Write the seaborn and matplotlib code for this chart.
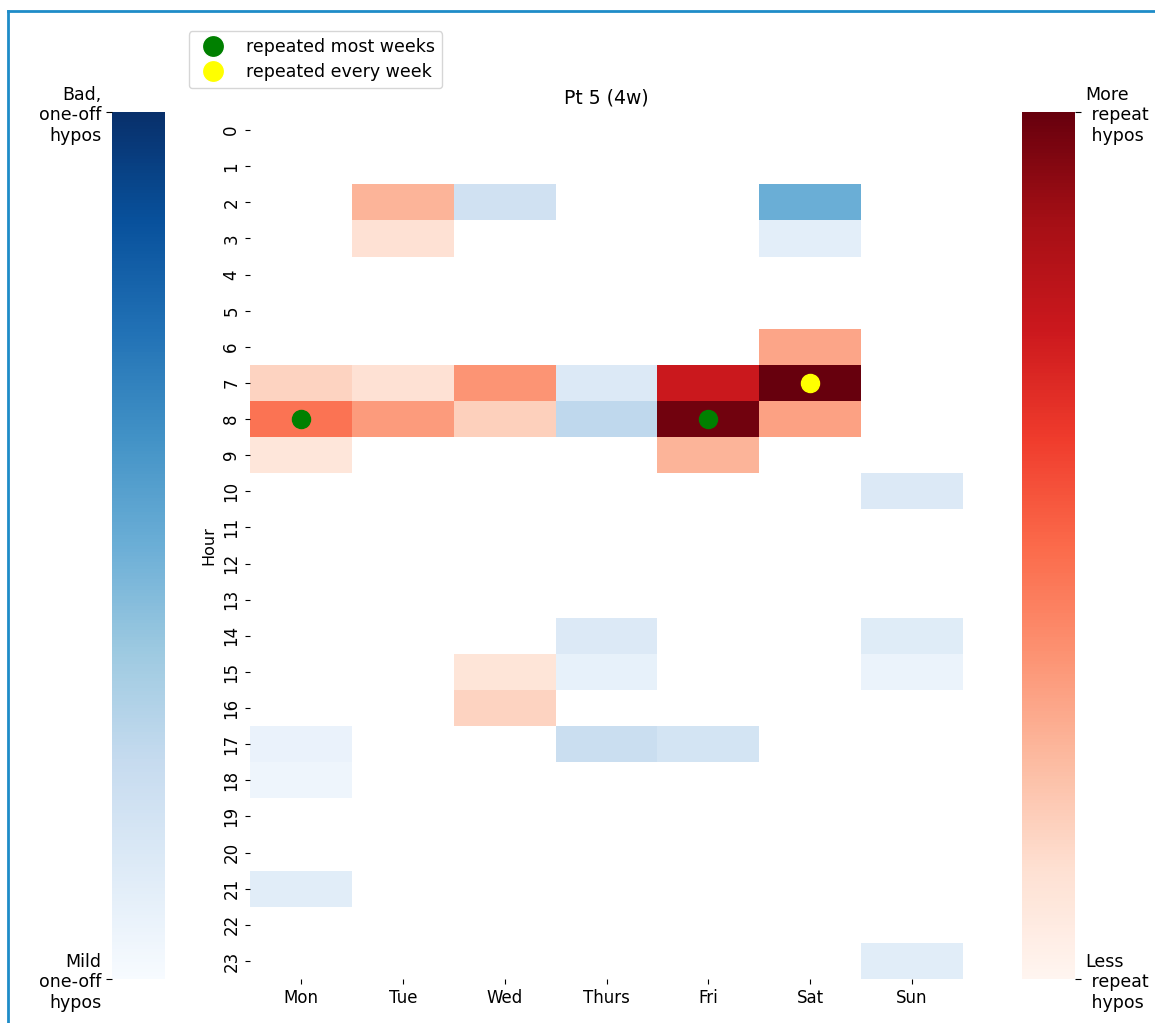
import numpy as np
import pandas as pd
import matplotlib
matplotlib.use('Agg')
import matplotlib.pyplot as plt
import seaborn as sns
from matplotlib.lines import Line2D

days = ['Mon', 'Tue', 'Wed', 'Thurs', 'Fri', 'Sat', 'Sun']
hours = list(range(24))

# repeat hypos (Reds), (hour, day, value)
repeat_hour = [2, 3, 6, 7, 7, 7, 7, 7, 8, 8, 8, 8, 8, 9, 9, 15, 16]
repeat_day = ['Tue', 'Tue', 'Sat', 'Mon', 'Tue', 'Wed', 'Fri', 'Sat',
              'Mon', 'Tue', 'Wed', 'Fri', 'Sat', 'Mon', 'Fri', 'Wed', 'Wed']
repeat_val = [0.27, 0.12, 0.32, 0.17, 0.12, 0.37, 0.75, 1.0,
              0.47, 0.35, 0.18, 0.98, 0.33, 0.09, 0.27, 0.10, 0.17]

# one-off hypos (Blues)
oneoff_hour = [2, 2, 3, 7, 8, 10, 14, 15, 14, 15, 17, 17, 17, 18, 21, 23]
oneoff_day = ['Wed', 'Sat', 'Sat', 'Thurs', 'Thurs', 'Sun', 'Thurs', 'Thurs',
              'Sun', 'Sun', 'Thurs', 'Fri', 'Mon', 'Mon', 'Mon', 'Sun']
oneoff_val = [0.20, 0.50, 0.10, 0.14, 0.27, 0.14, 0.14, 0.08,
              0.12, 0.06, 0.23, 0.18, 0.07, 0.05, 0.11, 0.11]

# markers
most_weeks = [('Mon', 8), ('Fri', 8)]
every_week = [('Sat', 7)]

reds = pd.DataFrame(np.nan, index=hours, columns=days)
for h, d, v in zip(repeat_hour, repeat_day, repeat_val):
    reds.loc[h, d] = v
blues = pd.DataFrame(np.nan, index=hours, columns=days)
for h, d, v in zip(oneoff_hour, oneoff_day, oneoff_val):
    blues.loc[h, d] = v

fig = plt.figure(figsize=(11.55, 10.23), dpi=100)
ax = fig.add_axes([0.2165, 0.043, 0.6173, 0.8475])
cax_l = fig.add_axes([0.097, 0.043, 0.046, 0.8475])
cax_r = fig.add_axes([0.885, 0.043, 0.046, 0.8475])

sns.heatmap(blues, ax=ax, cmap='Blues', vmin=0, vmax=1, cbar_ax=cax_l)
sns.heatmap(reds, ax=ax, cmap='Reds', vmin=0, vmax=1, cbar_ax=cax_r)

for d, h in most_weeks:
    ax.plot(days.index(d) + 0.5, h + 0.5, 'o', color='green', markersize=13)
for d, h in every_week:
    ax.plot(days.index(d) + 0.5, h + 0.5, 'o', color='yellow', markersize=13)

ax.set_title('Pt 5 (4w)', fontsize=13.5)
ax.set_ylabel('Hour', fontsize=11.5)
ax.set_xlabel('')
ax.set_yticks(np.arange(24) + 0.5)
ax.set_yticklabels(hours, rotation=90, fontsize=12, va='center')
ax.set_xticklabels(days, fontsize=12)

cax_l.yaxis.set_ticks_position('left')
cax_l.yaxis.set_label_position('left')
cax_l.set_yticks([0, 1])
cax_l.set_yticklabels(['Mild\none-off\nhypos', 'Bad,\none-off\nhypos'], fontsize=12.5)
cax_r.set_yticks([0, 1])
cax_r.set_yticklabels(['Less\n repeat\n hypos', 'More\n repeat\n hypos'], fontsize=12.5)
for c in (cax_l, cax_r):
    c.tick_params(length=4)

handles = [
    Line2D([], [], marker='o', color='w', markerfacecolor='green', markersize=16, label='repeated most weeks'),
    Line2D([], [], marker='o', color='w', markerfacecolor='yellow', markersize=16, label='repeated every week'),
]
fig.legend(handles=handles, loc='upper left', bbox_to_anchor=(0.156, 0.978),
           fontsize=12.5, frameon=True, handletextpad=0.9, labelspacing=0.4)

# blue frame
fig.add_artist(Line2D([0.007, 1.0], [0.989, 0.989], color='#1e8cc8', linewidth=2, transform=fig.transFigure))
fig.add_artist(Line2D([0.007, 0.007], [0.0, 0.989], color='#1e8cc8', linewidth=2, transform=fig.transFigure))

fig.savefig('out.png', dpi=100)
